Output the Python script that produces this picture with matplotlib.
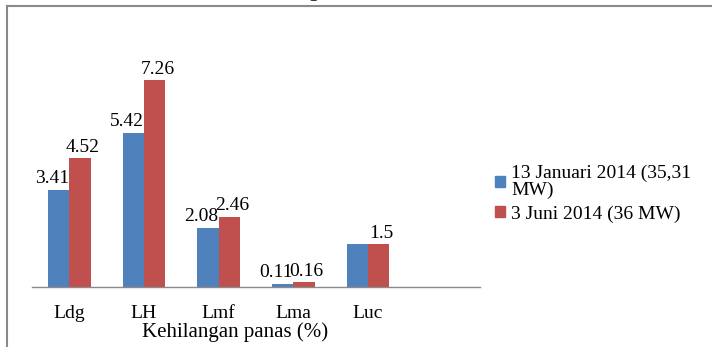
import matplotlib.pyplot as plt
from matplotlib.lines import Line2D
from matplotlib.patches import Patch
import numpy as np

# ===== DATA =====
categories = ["Ldg", "LH", "Lmf", "Lma", "Luc"]
jan_2014 = [3.41, 5.42, 2.08, 0.11, 1.5]
jun_2014 = [4.52, 7.26, 2.46, 0.16, 1.5]
series_labels = ["13 Januari 2014 (35,31\nMW)", "3 Juni 2014 (36 MW)"]
x_label = "Kehilangan panas (%)"

BLUE = "#4F81BD"
RED = "#C0504D"
FRAME = "#8a8a8a"

plt.rcParams["font.family"] = ["Liberation Serif", "DejaVu Serif"]

W, H = 712, 347
fig = plt.figure(figsize=(W / 100, H / 100), dpi=100)

# plot area: baseline at y=287px, spans x 32..480px
ax_h = 287 - 40
ax = fig.add_axes([32 / W, 1 - 287 / H, (480 - 32) / W, ax_h / H])

x = np.arange(len(categories))
bw = 0.285
ax.bar(x - bw / 2, jan_2014, bw, color=BLUE, label=series_labels[0])
ax.bar(x + bw / 2, jun_2014, bw, color=RED, label=series_labels[1])

# value labels (Luc blue label not shown in original)
for i, v in enumerate(jan_2014):
    if categories[i] == "Luc":
        continue
    ax.annotate(f"{v:g}", (x[i] - bw / 2, v), xytext=(-5, 2), textcoords="offset points",
                ha="center", va="bottom", fontsize=14)
for i, v in enumerate(jun_2014):
    ax.annotate(f"{v:g}", (x[i] + bw / 2, v), xytext=(2, 2), textcoords="offset points",
                ha="center", va="bottom", fontsize=14)

ax.set_xlim(-0.5, 5.5)
ax.set_ylim(0, ax_h / 28.45)
ax.set_xticks(x)
ax.set_xticklabels(categories, fontsize=14)
ax.tick_params(axis="x", length=0, pad=13)
ax.set_yticks([])
ax.set_xlabel(x_label, fontsize=15)
ax.xaxis.set_label_coords((235 - 32) / 448, -45 / ax_h)
ax.xaxis.label.set_va("center")
for s in ["top", "right", "left"]:
    ax.spines[s].set_visible(False)
ax.spines["bottom"].set_color(FRAME)
ax.spines["bottom"].set_linewidth(1.0)

handles = [Patch(color=BLUE), Patch(color=RED)]
leg = fig.legend(handles, series_labels, loc="upper left", bbox_to_anchor=(487 / W, 1 - 157 / H),
                 frameon=False, fontsize=14, handlelength=0.5, handleheight=0.5,
                 handletextpad=0.35, labelspacing=0.3, borderaxespad=0)
for t in leg.get_texts():
    t.set_linespacing(1.0)

# outer frame (partially cropped in the original)
fig.add_artist(Line2D([7 / W, 7 / W], [0, 1 - 5.5 / H], color=FRAME, lw=1.5))
fig.add_artist(Line2D([7 / W, 1], [1 - 5.5 / H, 1 - 5.5 / H], color=FRAME, lw=1.5))

# cropped title fragment
fig.text(313 / W, 1 + 3 / H, "g", ha="center", va="baseline", fontsize=14)

fig.savefig("out.png", dpi=100)
